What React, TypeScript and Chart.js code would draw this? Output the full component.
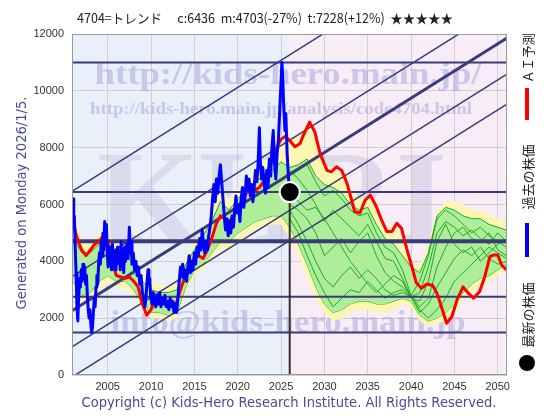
import React, { useEffect, useRef } from "react";
import { Chart, registerables } from "chart.js";

Chart.register(...registerables);

// ---------- texts ----------
const titleText = "4704=トレンド　 c:6436  m:4703(-27%)  t:7228(+12%)  ★★★★★";
const generatedText = "Generated on Monday 2026/1/5.";
const copyrightText = "Copyright (c) Kids-Hero Research Institute. All Rights Reserved.";
const legendAI = "ＡＩ予測";
const legendPast = "過去の株価";
const legendLatest = "最新の株価";
const watermarkUrl = "http://kids-hero.main.jp/";
const watermarkPage = "http://kids-hero.main.jp/analysis/code4704.html";
const watermarkMark = "KHRI";
const watermarkMail = "info@kids-hero.main.jp";

// ---------- axes ----------
const xMin = 2000.88;
const xMax = 2051.07;
const xTickYears = [2005, 2010, 2015, 2020, 2025, 2030, 2035, 2040, 2045, 2050];
const yTickValues = [0, 2000, 4000, 6000, 8000, 10000, 12000];

// ---------- past price (blue) ----------
const pastYears = [
  2001.0, 2001.08, 2001.15, 2001.25, 2001.35, 2001.45, 2001.55, 2001.65, 2001.75, 2001.85, 2001.95,
  2002.05, 2002.15, 2002.25, 2002.35, 2002.45, 2002.55, 2002.65, 2002.75, 2002.85, 2002.95,
  2003.05, 2003.15, 2003.25, 2003.35, 2003.45, 2003.55, 2003.65, 2003.75, 2003.85, 2003.95,
  2004.05, 2004.15, 2004.25, 2004.35, 2004.45, 2004.55, 2004.65, 2004.75, 2004.85, 2004.95,
  2005.05, 2005.15, 2005.25, 2005.35, 2005.45, 2005.55, 2005.65, 2005.75, 2005.85, 2005.95,
  2006.05, 2006.15, 2006.25, 2006.35, 2006.45, 2006.55, 2006.65, 2006.75, 2006.85, 2006.95,
  2007.05, 2007.2, 2007.35, 2007.5, 2007.6, 2007.7, 2007.8, 2007.95,
  2008.1, 2008.25, 2008.4, 2008.55, 2008.7, 2008.85,
  2009.0, 2009.15, 2009.3, 2009.45, 2009.55, 2009.65, 2009.75, 2009.85, 2009.95,
  2010.1, 2010.25, 2010.4, 2010.55, 2010.7, 2010.85,
  2011.0, 2011.15, 2011.3, 2011.45, 2011.6, 2011.75, 2011.9,
  2012.05, 2012.2, 2012.35, 2012.5, 2012.65, 2012.8, 2012.95,
  2013.1, 2013.25, 2013.4, 2013.5, 2013.65, 2013.8, 2013.95,
  2014.1, 2014.25, 2014.4, 2014.55, 2014.7, 2014.85,
  2015.0, 2015.15, 2015.3, 2015.45, 2015.6, 2015.75, 2015.9,
  2016.05, 2016.2, 2016.35, 2016.5, 2016.65, 2016.8, 2016.95,
  2017.1, 2017.25, 2017.4, 2017.55, 2017.7, 2017.85,
  2018.0, 2018.15, 2018.3, 2018.45, 2018.6, 2018.75, 2018.9,
  2019.05, 2019.2, 2019.35, 2019.5, 2019.65, 2019.8, 2019.95,
  2020.1, 2020.25, 2020.4, 2020.55, 2020.7, 2020.85,
  2021.0, 2021.15, 2021.3, 2021.45, 2021.6, 2021.75, 2021.9,
  2022.05, 2022.2, 2022.35, 2022.5, 2022.6, 2022.75, 2022.9,
  2023.05, 2023.2, 2023.35, 2023.5, 2023.65, 2023.8, 2023.95,
  2024.1, 2024.25, 2024.4, 2024.55, 2024.7, 2024.8, 2024.95,
  2025.1, 2025.2, 2025.3, 2025.45, 2025.55, 2025.7, 2025.85, 2025.95,
];
const pastPrices = [
  6200, 5400, 5600, 4500, 3600, 2400, 1900, 2700, 3400, 3100, 3700,
  3300, 3900, 3400, 3800, 3200, 3500, 2800, 2300, 2000, 2300,
  1800, 1500, 1700, 2200, 2700, 2400, 3100, 3500, 3200, 3900,
  4300, 3900, 4700, 4200, 5000, 4400, 5400, 4600, 5300, 4300,
  3800, 4500, 3900, 4300, 3700, 4600, 4000, 4300, 3700, 4400,
  3900, 4500, 4000, 4200, 3700, 4700, 3900, 4100, 3600, 4500,
  4000, 4600, 4100, 5200, 4300, 4700, 3900, 4300,
  3700, 4000, 3500, 3800, 3200, 3500,
  2900, 2700, 2400, 2900, 3300, 3700, 3200, 3400, 2800,
  2500, 2900, 2600, 2400, 2800, 2500,
  2900, 2400, 2700, 2500, 2800, 2400, 2600,
  2300, 2700, 2400, 2600, 2200, 2500, 2200,
  2700, 3300, 3800, 3500, 3900, 3400, 3700,
  3300, 3800, 4200, 3600, 4000, 3700,
  4300, 3900, 4500, 4200, 4800, 4400, 5100,
  4600, 4300, 4700, 4400, 4900, 5200, 5600,
  6200, 6700, 6100, 6900, 6400, 7000,
  7400, 6800, 6200, 5600, 5100, 5500, 4900,
  5400, 5000, 5600, 5200, 5800, 6300, 5700,
  6000, 5400, 6200, 6600, 5900, 6300,
  7000, 6500, 6900, 6300, 6700, 6100, 6600,
  7200, 6800, 7400, 8700, 7600, 6900, 7300,
  6700, 6400, 7200, 6600, 7600, 7000, 8000,
  8600, 7400, 6900, 7800, 8300, 9000, 10000,
  11000, 10400, 9500, 8600, 9200, 7800, 7000, 6500,
];

// ---------- AI forecast (red) ----------
const aiYears = [
  2001.0, 2001.3, 2001.6, 2002.0, 2002.5, 2003.0, 2003.5, 2004.0, 2004.5, 2005.0, 2005.5,
  2006.0, 2006.5, 2007.0, 2007.5, 2008.0, 2008.5, 2009.0, 2009.5, 2010.0, 2010.5,
  2011.0, 2011.5, 2012.0, 2012.5, 2013.0, 2013.5, 2014.0, 2014.5, 2015.0, 2015.5,
  2016.0, 2016.5, 2017.0, 2017.5, 2018.0, 2018.5, 2019.0, 2019.5, 2020.0, 2020.5,
  2021.0, 2021.5, 2022.0, 2022.5, 2023.0, 2023.5, 2024.0, 2024.5, 2025.0, 2025.5, 2026.0,
  2026.6, 2027.2, 2027.6, 2028.3, 2028.9, 2029.5, 2030.3, 2030.8, 2031.4, 2032.0, 2032.6,
  2033.15, 2033.5, 2034.1, 2034.7, 2035.3, 2036.0, 2036.6, 2037.2, 2037.8, 2038.35, 2038.9,
  2039.5, 2040.1, 2040.6, 2041.2, 2041.8, 2042.5, 2043.0, 2043.5, 2044.1, 2044.7, 2045.3,
  2046.0, 2046.6, 2047.2, 2047.9, 2048.5, 2049.1, 2049.5, 2050.0, 2050.45, 2051.0,
];
const aiValues = [
  5500, 5000, 4700, 4400, 4200, 4400, 4600, 4700, 4900, 4700, 4000,
  3500, 3450, 3400, 3450, 3300, 3100, 2500, 2100, 2300, 2700,
  2700, 2600, 2500, 2400, 2600, 3100, 3500, 3900, 4100, 4200,
  4100, 4400, 4800, 5300, 5600, 5500, 5400, 5600, 5900, 6100,
  6400, 6600, 6500, 6600, 6800, 7200, 7600, 8000, 8300, 8400, 8250,
  8030, 8150, 8450, 8900, 8550, 7800, 7200, 7150, 7330, 7200, 6750,
  6150, 5750, 5700, 6150, 6330, 5920, 5450, 5050, 5050, 5340, 5160,
  4450, 3800, 3250, 3050, 3200, 3150, 2870, 2400, 1820, 2050, 2640,
  3100, 2880, 2700, 2930, 3460, 4170, 4220, 4220, 3870, 3700,
];

// ---------- simulation bands ----------
const bandYears = [
  2001, 2002, 2003, 2004, 2005, 2006, 2007, 2008, 2009, 2010,
  2011, 2012, 2013, 2014, 2015, 2016, 2017, 2018, 2019, 2020,
  2021, 2022, 2023, 2024, 2025, 2026, 2027, 2028, 2029, 2030,
  2031, 2032, 2033, 2034, 2035, 2036, 2037, 2038, 2039, 2040,
  2041, 2042, 2043, 2044, 2045, 2046, 2047, 2048, 2049, 2050, 2051,
];
const yellowHigh = [
  5600, 4800, 4700, 5000, 5000, 4600, 4500, 4200, 3600, 3300,
  3200, 3100, 3300, 4100, 4700, 5100, 5700, 6500, 6200, 6600,
  6900, 7300, 7500, 7800, 8200, 8400, 8400, 8900, 8300, 7400,
  7300, 7100, 6600, 6200, 6300, 5900, 5100, 5300, 4900, 4000,
  3800, 4600, 5800, 6100, 6100, 6000, 5800, 5800, 5600, 5500, 5400,
];
const greenHigh = [
  4800, 4300, 4300, 4600, 4700, 4300, 4200, 3900, 3300, 3000,
  2900, 2900, 3000, 3900, 4400, 4900, 5400, 6100, 5800, 6200,
  6500, 6800, 7000, 7200, 7500, 7300, 7400, 7600, 7000, 6700,
  6600, 6400, 6000, 5800, 5900, 5300, 4800, 4600, 4200, 3800,
  3600, 4300, 5600, 5900, 5800, 5600, 5500, 5500, 5300, 5200, 5100,
];
const greenLow = [
  3300, 2800, 2900, 3300, 3500, 3300, 3300, 3000, 2500, 2200,
  2200, 2100, 2200, 3100, 3700, 3900, 4300, 4700, 4700, 5000,
  5200, 5400, 5500, 5600, 5600, 5200, 4600, 3900, 3100, 2500,
  2200, 2300, 2500, 2600, 2600, 2500, 2500, 2600, 2700, 2600,
  2100, 1900, 2000, 2200, 2500, 2900, 3200, 3400, 3500, 3700, 3900,
];
const yellowLow = [
  3000, 2500, 2600, 3000, 3200, 3100, 3000, 2800, 2300, 2000,
  2000, 1900, 2000, 2900, 3500, 3700, 4100, 4400, 4400, 4700,
  4900, 5100, 5200, 5300, 5300, 4800, 4200, 3400, 2700, 2200,
  1900, 2000, 2200, 2300, 2300, 2200, 2200, 2300, 2500, 2400,
  1900, 1700, 1800, 1900, 2200, 2600, 2900, 3100, 3300, 3500, 3700,
];

// ---------- simulated paths (thin green) ----------
const simYears = [
  2026, 2027, 2028, 2029, 2030, 2031, 2032, 2033, 2034, 2035, 2036, 2037, 2038,
  2039, 2040, 2041, 2042, 2043, 2044, 2045, 2046, 2047, 2048, 2049, 2050, 2051,
];
const simPathA = [7000, 7200, 7400, 6800, 6300, 6500, 6200, 5800, 5600, 5700, 5000, 4500, 4300, 3700, 2800, 3300, 4200, 5500, 5800, 5600, 5300, 5000, 5200, 4900, 4700, 4500];
const simPathB = [6000, 5800, 5500, 5000, 4200, 4500, 4800, 4300, 4700, 5000, 4200, 3600, 3300, 3100, 2800, 2400, 2700, 3800, 4500, 5000, 5200, 4800, 4700, 5000, 4400, 4200];
const simPathC = [5500, 5000, 4200, 3500, 2900, 2400, 2700, 3000, 2900, 3300, 3000, 2700, 2900, 3000, 2750, 2300, 2000, 2300, 2700, 3300, 3600, 3900, 4200, 4500, 4300, 4100];
const simPathD = [6500, 6100, 5800, 5900, 5500, 5000, 4500, 4000, 3600, 3200, 2900, 3200, 3500, 3300, 2700, 2600, 3300, 4700, 5300, 4600, 4300, 4500, 4000, 4300, 4600, 4800];
const simPathE = [7200, 6900, 6500, 6000, 5400, 5800, 5500, 5200, 4900, 5300, 4700, 4100, 4000, 3400, 2750, 2900, 3800, 5000, 5400, 5200, 4900, 5100, 4800, 4600, 5000, 4700];
const simPathF = [5800, 5300, 4700, 4000, 3400, 3100, 3500, 3800, 3400, 3700, 3400, 3000, 2800, 2900, 2750, 2200, 2500, 3100, 3600, 4100, 4400, 4200, 4500, 4100, 3900, 4000];

// ---------- trend channel & levels ----------
const trendStartValues = [6459, 3459, 2259, 988, -71];
const trendEndValues = [16062, 13062, 11862, 10591, 9532];
const trendWidths = [1.5, 1.5, 3, 1.5, 1.5];
const levelValues = [11000, 6436, 4703, 2750, 1500];
const levelWidths = [2, 2, 4, 2, 2];
const latestYear = 2026;
const latestPrice = 6436;

// ---------- helpers ----------
const pts = (xs: number[], ys: number[]) => xs.map((x, i) => ({ x, y: ys[i] }));

function drawFitted(
  ctx: CanvasRenderingContext2D,
  text: string,
  cx: number,
  cy: number,
  width: number,
  font: string,
  color: string,
  rot = 0
) {
  ctx.save();
  ctx.font = font;
  ctx.fillStyle = color;
  ctx.textAlign = "center";
  ctx.textBaseline = "middle";
  ctx.translate(cx, cy);
  if (rot) ctx.rotate(rot);
  const w = ctx.measureText(text).width;
  if (width > 0 && w > 0) ctx.scale(width / w, 1);
  ctx.fillText(text, 0, 0);
  ctx.restore();
}

const decorPlugin = {
  id: "decor",
  beforeDraw(chart: any) {
    const { ctx, chartArea: a, scales } = chart;
    const xs = scales.x.getPixelForValue(latestYear);
    ctx.save();
    ctx.fillStyle = "#ffffff";
    ctx.fillRect(0, 0, chart.width, chart.height);
    ctx.fillStyle = "#eaf0f9";
    ctx.fillRect(a.left, a.top, xs - a.left, a.bottom - a.top);
    ctx.fillStyle = "#f8ecf7";
    ctx.fillRect(xs, a.top, a.right - xs, a.bottom - a.top);
    ctx.restore();
  },
  beforeDatasetsDraw(chart: any) {
    const { ctx } = chart;
    drawFitted(ctx, watermarkMark, 272, 207, 350, 'bold 132px "Liberation Serif"', "rgba(180,180,210,0.33)");
    drawFitted(ctx, watermarkUrl, 288, 76, 387, 'bold 32px "Liberation Serif"', "rgba(160,160,220,0.5)");
    drawFitted(ctx, watermarkPage, 281, 110, 382, 'bold 17px "Liberation Serif"', "rgba(160,160,220,0.5)");
    drawFitted(ctx, watermarkMail, 288, 324, 355, 'bold 32px "Liberation Serif"', "rgba(160,160,220,0.5)");
  },
  afterDraw(chart: any) {
    const { ctx, chartArea: a } = chart;
    ctx.save();
    ctx.strokeStyle = "#999999";
    ctx.lineWidth = 1;
    ctx.strokeRect(a.left + 0.5, a.top + 0.5, a.right - a.left - 1, a.bottom - a.top - 1);
    ctx.restore();

    drawFitted(ctx, titleText, 265, 18, 376, '13px "Noto Sans CJK JP"', "#222222");
    drawFitted(ctx, generatedText, 22, 203, 213, '14px "DejaVu Sans"', "#4a4a9a", -Math.PI / 2);
    drawFitted(ctx, copyrightText, 289, 403, 415, '14px "DejaVu Sans"', "#4a4a9a");

    // legend (rotated, reading bottom to top)
    drawFitted(ctx, legendAI, 528, 58, 50, '13px "Noto Sans CJK JP"', "#222222", -Math.PI / 2);
    drawFitted(ctx, legendPast, 528, 177, 65, '13px "Noto Sans CJK JP"', "#222222", -Math.PI / 2);
    drawFitted(ctx, legendLatest, 528, 315, 65, '13px "Noto Sans CJK JP"', "#222222", -Math.PI / 2);
    ctx.save();
    ctx.fillStyle = "#ff0000";
    ctx.fillRect(525, 88, 4, 32);
    ctx.fillStyle = "#0000ff";
    ctx.fillRect(525, 223, 4, 34);
    ctx.fillStyle = "#000000";
    ctx.beginPath();
    ctx.arc(527, 363, 8, 0, Math.PI * 2);
    ctx.fill();
    ctx.restore();
  },
};

const NAVY = "#3b3b7a";
const GREEN_LINE = "#22a822";
const CLEAR = "rgba(0,0,0,0)";

export default function App() {
  const canvasRef = useRef<HTMLCanvasElement | null>(null);

  useEffect(() => {
    const canvas = canvasRef.current;
    if (!canvas) return;

    const base = { pointRadius: 0, pointHoverRadius: 0, tension: 0, fill: false, clip: 0 };
    const list: any[] = [];

    list.push({ ...base, data: pts(bandYears, yellowLow), borderColor: CLEAR, borderWidth: 1 });
    list.push({ ...base, data: pts(bandYears, yellowHigh), borderColor: CLEAR, borderWidth: 1, fill: "-1", backgroundColor: "#fbf6b2" });
    list.push({ ...base, data: pts(bandYears, greenLow), borderColor: GREEN_LINE, borderWidth: 1 });
    list.push({ ...base, data: pts(bandYears, greenHigh), borderColor: GREEN_LINE, borderWidth: 1, fill: "-1", backgroundColor: "#aeee9a" });
    [simPathA, simPathB, simPathC, simPathD, simPathE, simPathF].forEach((p) =>
      list.push({ ...base, data: pts(simYears, p), borderColor: GREEN_LINE, borderWidth: 1 })
    );
    trendStartValues.forEach((v, i) =>
      list.push({
        ...base,
        data: [
          { x: xMin, y: v },
          { x: xMax, y: trendEndValues[i] },
        ],
        borderColor: NAVY,
        borderWidth: trendWidths[i],
      })
    );
    levelValues.forEach((v, i) =>
      list.push({
        ...base,
        data: [
          { x: xMin, y: v },
          { x: xMax, y: v },
        ],
        borderColor: NAVY,
        borderWidth: levelWidths[i],
      })
    );
    list.push({
      ...base,
      data: [
        { x: latestYear, y: latestPrice },
        { x: latestYear, y: 0 },
      ],
      borderColor: "#333333",
      borderWidth: 2,
    });
    list.push({ ...base, data: pts(aiYears, aiValues), borderColor: "#ff0000", borderWidth: 3, borderJoinStyle: "round" });
    list.push({ ...base, data: pts(pastYears, pastPrices), borderColor: "#0000ff", borderWidth: 3, borderJoinStyle: "round" });
    list.push({
      type: "scatter",
      data: [{ x: latestYear, y: latestPrice }],
      pointRadius: 10,
      pointHoverRadius: 10,
      backgroundColor: "#000000",
      borderColor: "#ffffff",
      borderWidth: 2,
      clip: false,
    });

    const n = list.length;
    list.forEach((d, i) => {
      d.order = n - i;
    });

    const chart = new Chart(canvas, {
      type: "line",
      data: { datasets: list },
      plugins: [decorPlugin],
      options: {
        responsive: false,
        animation: false,
        devicePixelRatio: 1,
        events: [],
        layout: { padding: { top: 34, right: 53, left: 0, bottom: 0 } },
        plugins: { legend: { display: false }, tooltip: { enabled: false }, title: { display: false } },
        scales: {
          x: {
            type: "linear",
            min: xMin,
            max: xMax,
            afterBuildTicks: (s: any) => {
              s.ticks = xTickYears.map((v) => ({ value: v }));
            },
            afterFit: (s: any) => {
              s.height = 45;
            },
            ticks: {
              callback: (v: any) => String(v),
              font: { family: "Liberation Sans", size: 11 },
              color: "#333333",
              padding: 5,
              maxRotation: 0,
              autoSkip: false,
            },
            grid: { color: "#d0d0d0", drawTicks: false },
            border: { display: false },
          },
          y: {
            type: "linear",
            min: 0,
            max: 12000,
            afterBuildTicks: (s: any) => {
              s.ticks = yTickValues.map((v) => ({ value: v }));
            },
            afterFit: (s: any) => {
              s.width = 72;
            },
            ticks: {
              callback: (v: any) => String(v),
              font: { family: "Liberation Sans", size: 11 },
              color: "#333333",
              padding: 8,
              autoSkip: false,
            },
            grid: { color: "#d0d0d0", drawTicks: false },
            border: { display: false },
          },
        },
      },
    });

    return () => chart.destroy();
  }, []);

  return (
    <div style={{ position: "fixed", left: 0, top: 0, width: 560, height: 420, background: "#fff" }}>
      <canvas ref={canvasRef} width={560} height={420} style={{ width: 560, height: 420, display: "block" }} />
    </div>
  );
}
